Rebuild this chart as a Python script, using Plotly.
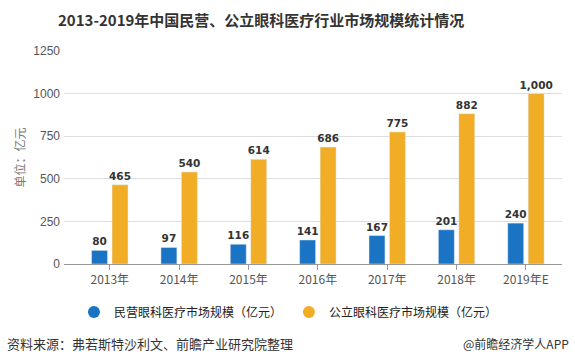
import plotly.graph_objects as go

years = ["2013年", "2014年", "2015年", "2016年", "2017年", "2018年", "2019年E"]
private_vals = [80, 97, 116, 141, 167, 201, 240]
public_vals = [465, 540, 614, 686, 775, 882, 1000]
y_ticks = [0, 250, 500, 750, 1000, 1250]

name_private = "民营眼科医疗市场规模（亿元）"
name_public = "公立眼科医疗市场规模（亿元）"
blue = "#1a73c3"
orange = "#f0ad25"

CJK = "Noto Sans CJK SC"
NUM = "DejaVu Sans"

fig = go.Figure()
fig.add_trace(go.Bar(x=years, y=private_vals, marker_color=blue, name=name_private,
                     showlegend=False, texttemplate="%{y:,}", textposition="outside",
                     constraintext="none",
                     textfont=dict(family=NUM, size=10.5, color="#333333", weight="bold"),
                     cliponaxis=False))
fig.add_trace(go.Bar(x=years, y=public_vals, marker_color=orange, name=name_public,
                     showlegend=False, texttemplate="%{y:,}", textposition="outside",
                     constraintext="none",
                     textfont=dict(family=NUM, size=10.5, color="#333333", weight="bold"),
                     cliponaxis=False))
# legend entries with circle markers
for nm, col in [(name_private, blue), (name_public, orange)]:
    fig.add_trace(go.Scatter(x=[None], y=[None], mode="markers", name=nm,
                             marker=dict(symbol="circle", size=12, color=col)))

fig.update_layout(
    width=575, height=364,
    margin=dict(l=64, r=13, t=51, b=100, autoexpand=False),
    paper_bgcolor="white", plot_bgcolor="white",
    barmode="group", bargap=0.41, bargroupgap=0.22,
    showlegend=True,
    legend=dict(orientation="h", x=0.02, y=-0.225, xanchor="left", yanchor="middle",
                entrywidth=170, entrywidthmode="pixels",
                font=dict(family=CJK, size=12, color="#222222")),
    xaxis=dict(type="category", range=[-0.66, 6.52], showline=True, linecolor="#999999",
               ticks="outside", ticklen=5, tickcolor="#999999",
               tickfont=dict(family=CJK, size=12, color="#555555"), showgrid=False),
    yaxis=dict(range=[0, 1250], tickvals=y_ticks, showgrid=True, gridcolor="#dddddd",
               zeroline=False, showline=False,
               tickfont=dict(family="Liberation Sans", size=12, color="#555555"),
               ticklabelstandoff=3),
)

fig.add_annotation(text="2013-2019年中国民营、公立眼科医疗行业市场规模统计情况",
                   xref="paper", yref="paper", x=(261 - 64) / 498, y=(264 - 20) / 213,
                   xanchor="center", yanchor="middle", showarrow=False,
                   font=dict(family=CJK, size=15, color="#333333", weight="bold"))
fig.add_annotation(text="单位：亿元", textangle=-90, xref="paper", yref="paper",
                   x=(19 - 64) / 498, y=0.5, xanchor="center", yanchor="middle",
                   showarrow=False, font=dict(family=CJK, size=12, color="#777777"))
fig.add_annotation(text="资料来源：弗若斯特沙利文、前瞻产业研究院整理", xref="paper", yref="paper",
                   x=(5 - 64) / 498, y=(264 - 343) / 213, xanchor="left", yanchor="middle",
                   showarrow=False, font=dict(family=CJK, size=13, color="#333333"))
fig.add_annotation(text="@前瞻经济学人APP", xref="paper", yref="paper",
                   x=(571 - 64) / 498, y=(264 - 343) / 213, xanchor="right", yanchor="middle",
                   showarrow=False, font=dict(family=CJK, size=12, color="#333333"))

fig.write_html("out.html", config={"displayModeBar": False},
               post_script="document.body.style.margin='0';")
